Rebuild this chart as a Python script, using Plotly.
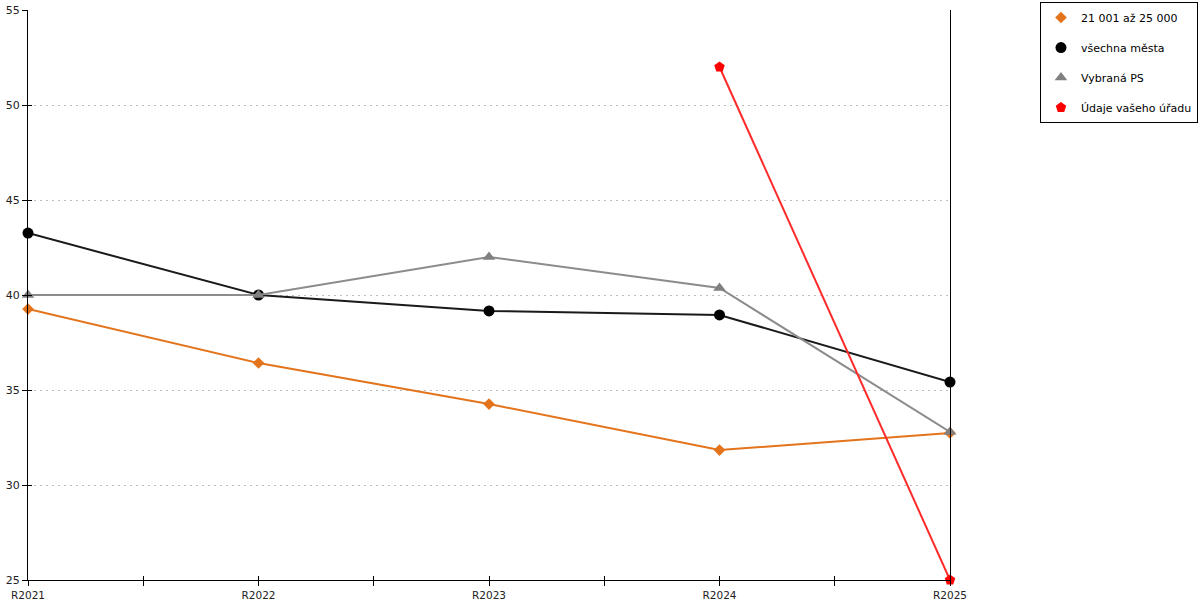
import plotly.graph_objects as go

years = ["R2021", "R2022", "R2023", "R2024", "R2025"]

# hodnoty
skupina_21_25 = [39.26, 36.42, 34.26, 31.84, 32.74]
vsechna_mesta = [43.26, 40.0, 39.16, 38.95, 35.42]
vybrana_ps = [40.0, 40.0, 42.0, 40.37, 32.79]
vas_urad = [None, None, None, 52.0, 25.0]

y_ticks = [25, 30, 35, 40, 45, 50, 55]

x_pos = list(range(len(years)))

fig = go.Figure()

series = [
    ("21 001 až 25 000", skupina_21_25, "#e3741c", "#e3741c", "diamond", 9),
    ("všechna města", vsechna_mesta, "#1a1a1a", "#000000", "circle", 11),
    ("Vybraná PS", vybrana_ps, "#8c8c8c", "#808080", "triangle-up", 11),
    ("Údaje vašeho úřadu", vas_urad, "#ff2a2a", "#ff0000", "pentagon", 11),
]

for i, (name, vals, lcol, mcol, sym, size) in enumerate(series):
    fig.add_trace(go.Scatter(
        x=x_pos, y=vals, name=name, mode="lines+markers",
        line=dict(color=lcol, width=2),
        marker=dict(color=mcol, symbol=sym, size=size),
        showlegend=False, cliponaxis=False,
        connectgaps=False,
    ))
    # jen znacka v legende
    fig.add_trace(go.Scatter(
        x=[None], y=[None], name=name, mode="markers",
        marker=dict(color=mcol, symbol=sym, size=size),
        legendgroup=str(i),
    ))

axis_font = dict(family="DejaVu Sans", size=11, color="#222222")

fig.update_layout(
    width=1200, height=600,
    margin=dict(l=28, r=250, t=10, b=20, autoexpand=False),
    plot_bgcolor="white", paper_bgcolor="white",
    font=axis_font,
    xaxis=dict(
        range=[0, len(years) - 1], tickvals=x_pos, ticktext=years,
        showgrid=False, zeroline=False,
        showline=True, linecolor="black", linewidth=1,
        ticks="outside", ticklen=5, tickcolor="black",
        minor=dict(dtick=0.5, ticks="outside", ticklen=5, tickcolor="black", showgrid=False),
        tickfont=dict(family="DejaVu Sans", size=10.5, color="#222222"),
        ticklabelstandoff=0,
    ),
    xaxis2=dict(
        overlaying="x", range=[0, len(years) - 1], tickvals=x_pos,
        showticklabels=False, showgrid=False, zeroline=False,
        ticks="inside", ticklen=4, tickcolor="black",
        minor=dict(dtick=0.5, ticks="inside", ticklen=4, tickcolor="black", showgrid=False),
    ),
    yaxis=dict(
        range=[25, 55], tickvals=y_ticks,
        showgrid=True, gridcolor="#bdbdbd", griddash="2px,4px", gridwidth=1,
        zeroline=False,
        showline=True, linecolor="black", linewidth=1, mirror=True,
        ticks="outside", ticklen=5, tickcolor="black",
        tickfont=axis_font,
    ),
    yaxis2=dict(
        overlaying="y", range=[25, 55], tickvals=y_ticks,
        showticklabels=False, showgrid=False, zeroline=False,
        ticks="inside", ticklen=4, tickcolor="black",
    ),
    legend=dict(
        x=1.0976, y=1.014, xanchor="left", yanchor="top",
        bordercolor="black", borderwidth=1,
        font=dict(family="DejaVu Sans", size=11, color="black"),
        traceorder="grouped", tracegroupgap=11,
        itemwidth=30,
    ),
)

# prazdna stopa pro zobrazeni pomocnych os
fig.add_trace(go.Scatter(x=[0], y=[25], xaxis="x2", yaxis="y2",
                         mode="markers", marker=dict(opacity=0),
                         showlegend=False, hoverinfo="skip"))

fig.write_html("out.html", config={"displayModeBar": False},
               post_script="document.body.style.margin='0';")
